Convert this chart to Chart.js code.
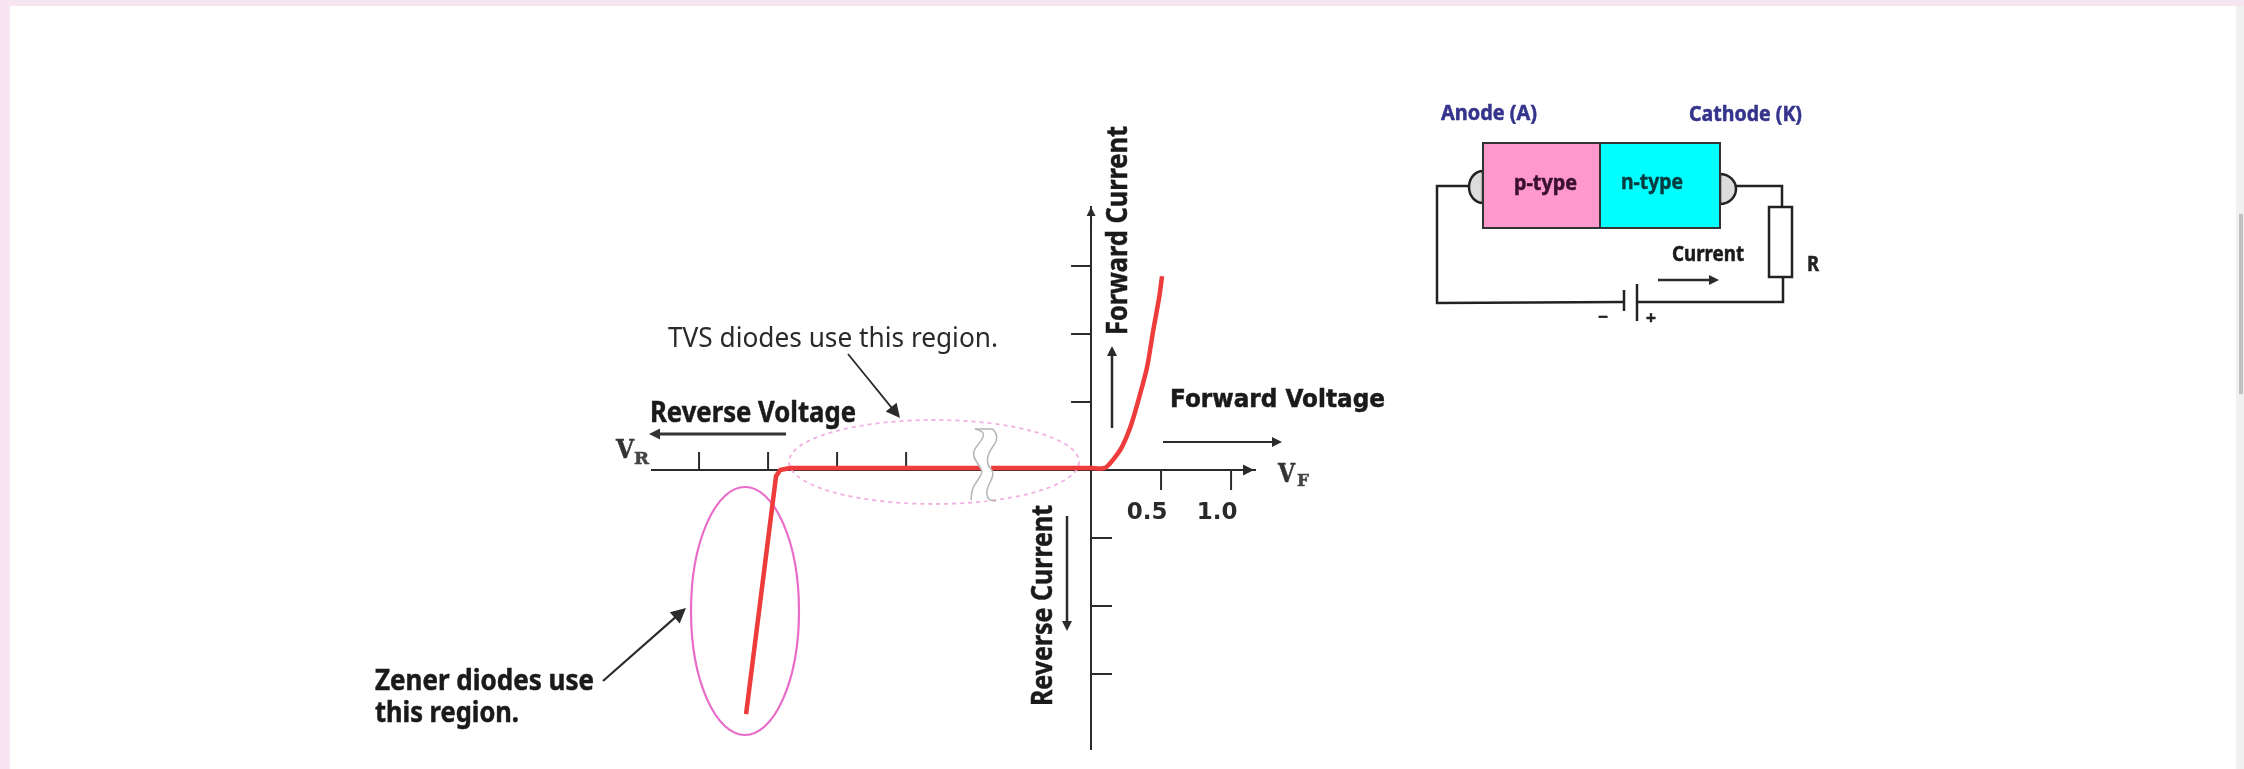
<!DOCTYPE html>
<html><head><meta charset="utf-8">
<script src="https://cdn.jsdelivr.net/npm/chart.js@4"></script>
<style>
html,body{margin:0;padding:0;width:2244px;height:769px;overflow:hidden;background:#f7e5f2}
#sheet{position:absolute;left:10px;top:6px;width:2226px;height:763px;background:#fff}
#track{position:absolute;left:2236px;top:6px;width:8px;height:763px;background:#f0f0f0}
#thumb{position:absolute;left:2239px;top:214px;width:4px;height:180px;background:#c0c0c0}
canvas{position:absolute;left:0;top:0;filter:blur(0.6px)}
</style></head>
<body>
<div id="sheet"></div><div id="track"></div><div id="thumb"></div>
<canvas id="c" width="2244" height="769"></canvas>
<script>
// Diode I-V characteristic, axis units: volts along x (left of the break is schematic), current units along y
const reverseBranchX = [-2.464, -2.25, -2.22, -2.15, -0.786];
const reverseBranchY = [-3.59, -0.09, 0, 0.03, 0.03];
const forwardBranchX = [-0.714, 0, 0.1, 0.157, 0.221, 0.279, 0.336, 0.4, 0.443, 0.486, 0.507];
const forwardBranchY = [0.03, 0.03, 0.03, 0.15, 0.34, 0.62, 1.01, 1.51, 2.04, 2.53, 2.85];
const xTickValues = [-2.8, -2.307, -1.814, -1.321, 0.5, 1.0];
const yTickValues = [3, 2, 1, -1, -2, -3];
const xLabelled = [0.5, 1.0];

const INK = '#2b2b2b', RED = '#ee3b3b';
const NS = '"Noto Sans"', DJ = '"DejaVu Sans"', SERIF = '"DejaVu Serif"';

function toPts(xs, ys){ return xs.map((x,i)=>({x, y:ys[i]})); }

function arrow(ctx,x1,y1,x2,y2,lw,head,col){
  const a=Math.atan2(y2-y1,x2-x1);
  ctx.save();ctx.strokeStyle=col||INK;ctx.fillStyle=col||INK;ctx.lineWidth=lw;
  ctx.beginPath();ctx.moveTo(x1,y1);ctx.lineTo(x2-Math.cos(a)*head*.7,y2-Math.sin(a)*head*.7);ctx.stroke();
  ctx.translate(x2,y2);ctx.rotate(a);
  ctx.beginPath();ctx.moveTo(0,0);ctx.lineTo(-head,-head*.5);ctx.lineTo(-head,head*.5);ctx.closePath();ctx.fill();
  ctx.restore();
}
function ink(ctx,s,font,col){
  ctx.fillText(s,0,0);
  if(font.indexOf('bold')===0){ctx.strokeStyle=col;ctx.lineWidth=0.5;ctx.strokeText(s,0,0);}
}
function txt(ctx,s,x1,x2,yc,font,col){
  col=col||'#1a1a1a';
  ctx.save();ctx.font=font;ctx.fillStyle=col;ctx.textBaseline='middle';ctx.textAlign='left';
  const w=ctx.measureText(s).width;
  ctx.translate(x1,yc);ctx.scale((x2-x1)/w,1);ink(ctx,s,font,col);ctx.restore();
}
function vtxt(ctx,s,xc,yBottom,yTop,font,col){
  col=col||'#1a1a1a';
  ctx.save();ctx.font=font;ctx.fillStyle=col;ctx.textBaseline='middle';ctx.textAlign='left';
  const w=ctx.measureText(s).width;
  ctx.translate(xc,yBottom);ctx.rotate(-Math.PI/2);ctx.scale((yBottom-yTop)/w,1);ink(ctx,s,font,col);ctx.restore();
}
function poly(ctx,p){ctx.beginPath();p.forEach((q,i)=>i?ctx.lineTo(q[0],q[1]):ctx.moveTo(q[0],q[1]));ctx.stroke();}
function smooth(ctx,p){
  ctx.moveTo(p[0][0],p[0][1]);
  for(let i=1;i<p.length-1;i++){const mx=(p[i][0]+p[i+1][0])/2,my=(p[i][1]+p[i+1][1])/2;ctx.quadraticCurveTo(p[i][0],p[i][1],mx,my);}
  const l=p[p.length-1];ctx.lineTo(l[0],l[1]);
}

const regions = {
  id:'regions',
  beforeDatasetsDraw(chart){
    const c=chart.ctx;c.save();
    c.strokeStyle='#f2b0e0';c.lineWidth=1.8;c.setLineDash([4,4]);
    c.beginPath();c.ellipse(934,462,145,42,0,0,Math.PI*2);c.stroke();
    c.setLineDash([]);c.strokeStyle='#e96cc9';c.lineWidth=2.2;
    c.beginPath();c.ellipse(745,611,54,124,0,0,Math.PI*2);c.stroke();
    c.restore();
  }
};

const axisTicks = {
  id:'axisTicks',
  beforeDatasetsDraw(chart){
    const c=chart.ctx,xs=chart.scales.x,ys=chart.scales.y,x0=xs.getPixelForValue(0),y0=ys.getPixelForValue(0);
    c.save();c.strokeStyle=INK;c.lineWidth=2;
    xTickValues.forEach(v=>{const px=xs.getPixelForValue(v);
      const down=v>0;poly(c,[[px,y0],[px,down?y0+20:y0-18]]);});
    yTickValues.forEach(v=>{const py=ys.getPixelForValue(v);
      poly(c,[[x0,py],[v>0?x0-20:x0+21,py]]);});
    arrow(c,1240,y0,xs.right-1,y0,2,11);
    arrow(c,x0,225,x0,ys.top,2,9);
    c.restore();
  }
};

const notes = {
  id:'notes',
  afterDatasetsDraw(chart){
    const c=chart.ctx;
    const L=[[975,429],[984,431],[983,439],[971,453],[980,467],[983,473],[972,488],[971,500]];
    const R=[[993,429],[1000,437],[988,453],[987,465],[995,473],[986,490],[988,500],[996,501]];
    c.save();c.beginPath();smooth(c,L);
    const Rr=R.slice().reverse();Rr.forEach((q,i)=>c.lineTo(q[0],q[1]));c.closePath();c.fillStyle='#fff';c.fill();
    c.strokeStyle='#b5b5b5';c.lineWidth=1.5;
    c.beginPath();smooth(c,L);c.stroke();c.beginPath();smooth(c,R);c.stroke();
    poly(c,[[975,429],[993,429]]);
    c.restore();

    txt(c,'TVS diodes use this region.',668,998,339,'27px '+NS,'#2a2a2a');
    arrow(c,848,354,900,418,1.8,14);
    txt(c,'Reverse Voltage',650,856,414,'bold 28px '+NS);
    arrow(c,786,434,649,434,3,11,'#333');
    txt(c,'V',616,634,451,'bold 26px '+SERIF,'#333');
    txt(c,'R',634,649,460,'bold 17px '+SERIF,'#444');
    txt(c,'V',1278,1295,475,'bold 26px '+SERIF,'#333');
    txt(c,'F',1297,1309,482,'bold 17px '+SERIF,'#444');
    txt(c,'Forward Voltage',1170,1385,401,'bold 24px '+DJ);
    arrow(c,1163,442,1282,442,2.2,10);
    vtxt(c,'Forward Current',1119,335,126,'bold 28px '+NS);
    arrow(c,1112,428,1112,346,2.5,10);
    vtxt(c,'Reverse Current',1044,706,505,'bold 28px '+NS);
    arrow(c,1067,516,1067,631,2.5,10);
    txt(c,'Zener diodes use',375,594,682,'bold 28px '+NS);
    txt(c,'this region.',375,519,714,'bold 28px '+NS);
    arrow(c,603,681,686,608,2.2,15);

    const W='#222';
    c.save();c.lineJoin='miter';
    c.strokeStyle=W;c.lineWidth=2.5;
    c.fillStyle='#dcdcdc';
    c.beginPath();c.ellipse(1483,187,14,16,0,Math.PI/2,Math.PI*1.5);c.closePath();c.fill();c.stroke();
    c.beginPath();c.ellipse(1720,189,16,15,0,-Math.PI/2,Math.PI/2);c.closePath();c.fill();c.stroke();
    c.fillStyle='#ff99cc';c.fillRect(1483,143,117,85);
    c.fillStyle='#00ffff';c.fillRect(1600,143,120,85);
    c.lineWidth=2;c.strokeStyle='#333';
    c.strokeRect(1483,143,237,85);poly(c,[[1600,143],[1600,228]]);
    c.strokeStyle=W;c.lineWidth=2.5;
    poly(c,[[1469,186],[1437,186],[1437,303],[1624,302]]);
    poly(c,[[1736,186],[1782,186],[1782,207]]);
    c.strokeRect(1769,207,23,70);
    poly(c,[[1783,277],[1783,302],[1637,302]]);
    poly(c,[[1624,290],[1624,311]]);
    poly(c,[[1637,284],[1637,321]]);
    c.restore();
    txt(c,'Anode (A)',1441,1537,114,'bold 21px '+NS,'#34348c');
    txt(c,'Cathode (K)',1689,1802,115,'bold 21px '+NS,'#34348c');
    txt(c,'p-type',1514,1577,184,'bold 21px '+NS,'#3a1030');
    txt(c,'n-type',1621,1683,183,'bold 21px '+NS,'#063c40');
    txt(c,'Current',1672,1744,255,'bold 21px '+NS);
    arrow(c,1658,280,1719,280,2.5,10);
    txt(c,'R',1807,1819,265,'bold 21px '+NS,'#222');
    txt(c,'\u2212',1598,1608,318,'bold 18px '+NS,'#222');
    txt(c,'+',1646,1656,319,'bold 18px '+NS,'#222');
  }
};

new Chart(document.getElementById('c'),{
  type:'scatter',
  data:{datasets:[
    {label:'Reverse region',data:toPts(reverseBranchX,reverseBranchY),showLine:true,borderColor:RED,borderWidth:4.5,pointRadius:0,tension:0,borderJoinStyle:'round'},
    {label:'Forward region',data:toPts(forwardBranchX,forwardBranchY),showLine:true,borderColor:RED,borderWidth:4.5,pointRadius:0,tension:0.25,borderJoinStyle:'round'}
  ]},
  options:{
    responsive:false,animation:false,devicePixelRatio:1,
    layout:{padding:{left:652,right:989,top:207,bottom:20}},
    plugins:{legend:{display:false},tooltip:{enabled:false},title:{display:false}},
    scales:{
      x:{type:'linear',min:-3.136,max:1.171,position:{y:0},
        afterBuildTicks(a){a.ticks=xLabelled.map(v=>({value:v}));},
        grid:{display:false},border:{display:true,color:INK,width:2},
        ticks:{autoSkip:false,maxRotation:0,padding:21,labelOffset:-14,color:'#2a2a2a',font:{family:'DejaVu Sans',weight:'bold',size:23},callback:v=>v.toFixed(1)}},
      y:{type:'linear',min:-4.103,max:3.868,position:{x:0},
        afterBuildTicks(a){a.ticks=yTickValues.map(v=>({value:v}));},
        grid:{display:false},border:{display:true,color:INK,width:2},
        ticks:{display:false}}
    }
  },
  plugins:[regions,axisTicks,notes]
});
</script>
</body></html>
